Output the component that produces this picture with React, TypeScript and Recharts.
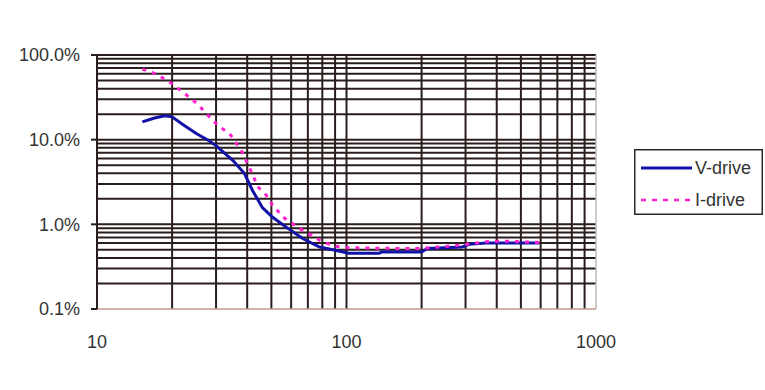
import { Legend, Line, LineChart, ReferenceLine, XAxis, YAxis } from "recharts";

// V-drive (blue, solid)
const vDriveX = [15.2, 17, 18.7, 20, 22, 25, 28, 30, 35, 39, 42, 46, 50.6, 57.5, 66.7, 78, 91, 102, 135, 138, 200, 211, 291, 311, 362, 592];
const vDriveY = [16.2, 18, 19.2, 18.6, 15.2, 11.8, 9.8, 8.5, 5.7, 3.98, 2.51, 1.58, 1.21, 0.92, 0.68, 0.54, 0.49, 0.455, 0.455, 0.47, 0.47, 0.52, 0.54, 0.58, 0.6, 0.6];

// I-drive (magenta, dotted)
const iDriveX = [15.2, 16.8, 18.7, 20, 22.5, 25.4, 27.8, 30.5, 34, 38, 40, 42, 44, 47.8, 50.6, 56.5, 65, 72.5, 80, 91, 100, 150, 200, 291, 374, 450, 592];
const iDriveY = [68, 61.6, 52, 45.6, 35, 26, 19.5, 14.7, 11.8, 7.3, 5.3, 3.9, 2.8, 2.19, 1.67, 1.18, 0.89, 0.74, 0.62, 0.55, 0.53, 0.52, 0.52, 0.57, 0.63, 0.63, 0.61];

const xTicks = [10, 100, 1000];
const yTicks = [0.1, 1, 10, 100];
const xGrid = [20, 30, 40, 50, 60, 70, 80, 90, 100, 200, 300, 400, 500, 600, 700, 800, 900];
const yGrid = [0.2, 0.3, 0.4, 0.5, 0.6, 0.7, 0.8, 0.9, 1, 2, 3, 4, 5, 6, 7, 8, 9, 10, 20, 30, 40, 50, 60, 70, 80, 90, 100];

const vData = vDriveX.map((x, i) => ({ x, y: vDriveY[i] }));
const iData = iDriveX.map((x, i) => ({ x, y: iDriveY[i] }));

const BLUE = "#1212a8";
const PINK = "#ff1fcf";
const GRID = "#2a1d1d";
const FONT = "'Liberation Sans', Arial, sans-serif";

const renderLegend = () => (
  <svg width={129} height={66} style={{ display: "block" }}>
    <rect x={0.75} y={0.75} width={127.5} height={64.5} fill="#fff" stroke="#2a2a2a" strokeWidth={1.5} />
    <line x1={7} x2={58} y1={19} y2={19} stroke={BLUE} strokeWidth={3} />
    <text x={61} y={25} fontSize={18} fill="#333" fontFamily={FONT}>V-drive</text>
    <line x1={7} x2={58} y1={51} y2={51} stroke={PINK} strokeWidth={2.5} strokeDasharray="5 6" />
    <text x={61} y={57} fontSize={18} fill="#333" fontFamily={FONT}>I-drive</text>
  </svg>
);

export default function App() {
  return (
    <div style={{ position: "absolute", left: 0, top: 0, width: 765, height: 390, background: "#fff", fontFamily: FONT }}>
      <LineChart width={765} height={390} margin={{ top: 55, right: 169, left: 0, bottom: 0 }}>
        <XAxis
          dataKey="x"
          type="number"
          scale="log"
          domain={[10, 1000]}
          ticks={xTicks}
          allowDataOverflow
          height={81}
          tickLine={false}
          tickSize={6}
          tickMargin={20}
          axisLine={{ stroke: "#c49a8a", strokeWidth: 1.5 }}
          tick={{ fontSize: 18, fill: "#333", fontFamily: FONT }}
        />
        <YAxis
          dataKey="y"
          type="number"
          scale="log"
          domain={[0.1, 100]}
          ticks={yTicks}
          allowDataOverflow
          width={97}
          tickSize={6}
          tickMargin={11}
          tickLine={{ stroke: GRID, strokeWidth: 2 }}
          axisLine={{ stroke: GRID, strokeWidth: 2 }}
          tickFormatter={(v: number) => v.toFixed(1) + "%"}
          tick={{ fontSize: 18, fill: "#333", fontFamily: FONT }}
        />
        {yGrid.map((v) => (
          <ReferenceLine key={"h" + v} y={v} stroke={GRID} strokeWidth={2} />
        ))}
        {xGrid.map((v) => (
          <ReferenceLine key={"v" + v} x={v} stroke={GRID} strokeWidth={2} />
        ))}
        <ReferenceLine x={1000} stroke="#bbbbbb" strokeWidth={1.5} />
        <Line
          data={vData}
          dataKey="y"
          name="V-drive"
          stroke={BLUE}
          strokeWidth={3}
          dot={false}
          type="linear"
          isAnimationActive={false}
        />
        <Line
          data={iData}
          dataKey="y"
          name="I-drive"
          stroke={PINK}
          strokeWidth={3}
          strokeDasharray="4 6"
          dot={false}
          type="linear"
          isAnimationActive={false}
        />
        <Legend
          layout="vertical"
          align="center"
          verticalAlign="middle"
          content={renderLegend}
          wrapperStyle={{ left: 634, top: 149, width: 129, height: 66 }}
        />
      </LineChart>
    </div>
  );
}
